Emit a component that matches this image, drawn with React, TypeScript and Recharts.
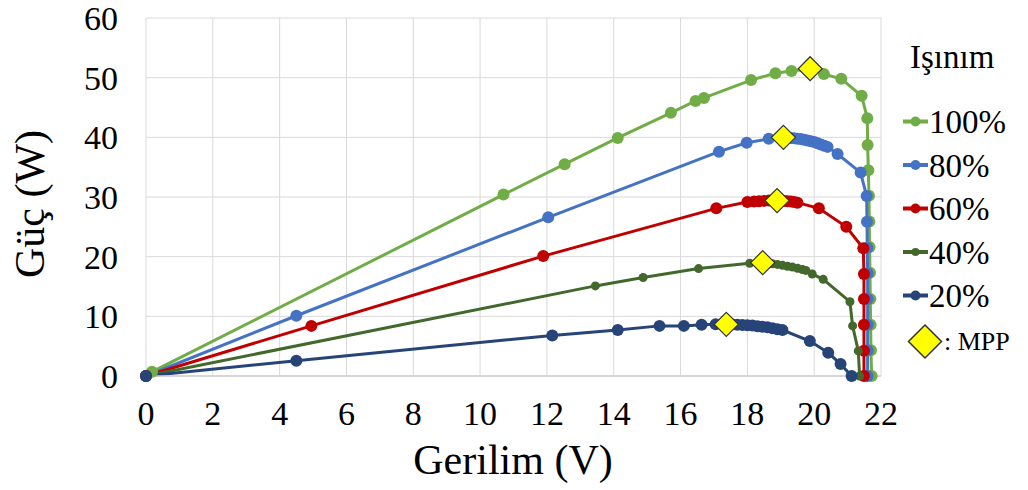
import { ComposedChart, Line, XAxis, YAxis, CartesianGrid, Legend, Label } from "recharts";

const FONT = '"Liberation Serif", "Times New Roman", serif';

// voltage (V) / power (W)
const v100 = [0, 0.18, 10.7, 12.53, 14.12, 15.71, 16.45, 16.7, 18.11, 18.84, 19.32, 19.88, 20.29, 20.81, 21.42, 21.59, 21.6, 21.62, 21.64, 21.65, 21.66, 21.67, 21.68, 21.69, 21.7, 21.72];
const p100 = [0, 0.7, 30.4, 35.5, 39.9, 44.1, 46.1, 46.6, 49.6, 50.75, 51.1, 51.5, 50.6, 49.8, 46.95, 43.2, 38.7, 34.5, 30.2, 25.9, 21.6, 17.3, 12.9, 8.6, 4.3, 0];

const v80 = [0, 4.5, 12.04, 17.15, 17.98, 18.64, 19.08, 19.2, 19.3, 19.4, 19.5, 19.6, 19.7, 19.8, 19.9, 20.0, 20.1, 20.2, 20.3, 20.4, 20.7, 21.39, 21.57, 21.58, 21.59, 21.6, 21.6, 21.6, 21.6, 21.6];
const p80 = [0, 10.1, 26.6, 37.6, 39.1, 39.75, 40.0, 39.95, 39.9, 39.85, 39.75, 39.7, 39.6, 39.45, 39.35, 39.2, 39.0, 38.8, 38.6, 38.4, 37.2, 34.1, 30.15, 25.85, 21.5, 17.2, 12.9, 8.6, 4.3, 0];

const v60 = [0, 4.95, 11.89, 17.07, 18.0, 18.2, 18.35, 18.5, 18.65, 18.8, 18.89, 19.0, 19.1, 19.2, 19.3, 19.4, 19.5, 20.14, 20.96, 21.47, 21.49, 21.49, 21.49, 21.49, 21.49];
const p60 = [0, 8.4, 20.1, 28.1, 29.15, 29.25, 29.3, 29.35, 29.4, 29.4, 29.45, 29.4, 29.35, 29.3, 29.25, 29.15, 29.05, 28.1, 25.0, 21.4, 17.1, 12.9, 8.6, 4.25, 0];

const v40 = [0, 13.45, 14.88, 16.54, 18.07, 18.46, 18.6, 18.75, 18.9, 19.05, 19.2, 19.35, 19.5, 19.65, 19.75, 19.94, 20.27, 21.07, 21.15, 21.32, 21.36];
const p40 = [0, 15.1, 16.5, 18.0, 18.9, 19.0, 18.9, 18.8, 18.7, 18.55, 18.4, 18.25, 18.05, 17.85, 17.7, 17.1, 16.2, 12.45, 8.4, 4.2, 0];

const v20 = [0, 4.5, 12.16, 14.12, 15.37, 16.1, 16.63, 17.05, 17.37, 17.55, 17.7, 17.85, 18.0, 18.15, 18.3, 18.45, 18.6, 18.75, 18.9, 19.05, 19.87, 20.42, 20.79, 21.12];
const p20 = [0, 2.57, 6.8, 7.7, 8.4, 8.4, 8.6, 8.66, 8.66, 8.65, 8.6, 8.55, 8.5, 8.45, 8.35, 8.25, 8.15, 8.0, 7.85, 7.7, 5.86, 3.9, 2.0, 0];

const vMpp = [19.88, 19.08, 18.89, 18.46, 17.37];
const pMpp = [51.5, 40.0, 29.4, 19.0, 8.66];

const xTicks = [0, 2, 4, 6, 8, 10, 12, 14, 16, 18, 20, 22];
const yTicks = [0, 10, 20, 30, 40, 50, 60];

const zip = (v: number[], p: number[]) => v.map((x, i) => ({ v: x, p: p[i] }));

const series = [
  { name: "100%", color: "#70AD47", r: 6, data: zip(v100, p100) },
  { name: "80%", color: "#4472C4", r: 6, data: zip(v80, p80) },
  { name: "60%", color: "#C00000", r: 6, data: zip(v60, p60) },
  { name: "40%", color: "#43682B", r: 4.5, data: zip(v40, p40) },
  { name: "20%", color: "#264478", r: 6, data: zip(v20, p20) },
];
const mpp = zip(vMpp, pMpp);

const diamond = (cx: number, cy: number, h: number) =>
  `M${cx},${cy - h}L${cx + h},${cy}L${cx},${cy + h}L${cx - h},${cy}Z`;

const DiamondDot = (props: any) => {
  const { cx, cy, index } = props;
  if (cx == null || cy == null) return <g key={index} />;
  return <path key={index} d={diamond(cx, cy, 12)} fill="#FFFF00" stroke="#333" strokeWidth={1.2} />;
};

const LegendBox = () => (
  <svg width={133} height={340} style={{ display: "block", overflow: "visible" }}>
    <text x={15} y={38} fontFamily={FONT} fontSize={33} fill="#000">Işınım</text>
    {series.map((s, i) => {
      const base = 103 + i * 43.5;
      return (
        <g key={s.name}>
          <line x1={8} x2={33} y1={base - 11.5} y2={base - 11.5} stroke={s.color} strokeWidth={4} />
          <circle cx={20.5} cy={base - 11.5} r={s.r === 6 ? 5 : 4} fill={s.color} />
          <text x={34} y={base} fontFamily={FONT} fontSize={33} fill="#000">{s.name}</text>
        </g>
      );
    })}
    <path d={diamond(30, 311.5, 16.5)} fill="#FFFF00" stroke="#333" strokeWidth={1.5} />
    <text x={49} y={320} fontFamily={FONT} fontSize={26} fill="#000">: MPP</text>
  </svg>
);

export default function App() {
  return (
    <div style={{ position: "absolute", left: 0, top: 0 }}>
      <ComposedChart width={1028} height={490} margin={{ top: 18, right: 147, left: 0, bottom: 0 }}>
        <CartesianGrid stroke="#D9D9D9" strokeWidth={1} />
        <XAxis
          type="number"
          dataKey="v"
          domain={[0, 22]}
          ticks={xTicks}
          interval={0}
          height={114}
          tickLine={false}
          tickSize={0}
          tickMargin={25}
          axisLine={{ stroke: "#CFCFCF", strokeWidth: 1.5 }}
          tick={{ fill: "#000", fontSize: 34, fontFamily: FONT }}
        >
          <Label
            content={() => (
              <text x={513} y={474} textAnchor="middle" fontFamily={FONT} fontSize={42} fill="#000">
                Gerilim (V)
              </text>
            )}
          />
        </XAxis>
        <YAxis
          type="number"
          dataKey="p"
          domain={[0, 60]}
          ticks={yTicks}
          interval={0}
          width={146}
          tickLine={false}
          tickSize={0}
          tickMargin={28}
          axisLine={false}
          tick={{ fill: "#000", fontSize: 34, fontFamily: FONT }}
        >
          <Label
            content={() => (
              <text
                x={44}
                y={204}
                transform="rotate(-90 44 204)"
                textAnchor="middle"
                fontFamily={FONT}
                fontSize={42}
                fill="#000"
              >
                Güç (W)
              </text>
            )}
          />
        </YAxis>
        <Legend
          layout="horizontal"
          verticalAlign="middle"
          align="center"
          wrapperStyle={{ left: 895, top: 30, width: 133, height: 340 }}
          content={() => <LegendBox />}
        />
        {series.map((s) => (
          <Line
            key={s.name}
            name={s.name}
            data={s.data}
            dataKey="p"
            type="linear"
            stroke={s.color}
            strokeWidth={3}
            dot={{ r: s.r, fill: s.color, stroke: s.color, strokeWidth: 0, clipDot: false }}
            activeDot={false}
            isAnimationActive={false}
          />
        ))}
        <Line
          name="MPP"
          data={mpp}
          dataKey="p"
          stroke="none"
          dot={DiamondDot}
          activeDot={false}
          legendType="diamond"
          isAnimationActive={false}
        />
      </ComposedChart>
    </div>
  );
}
